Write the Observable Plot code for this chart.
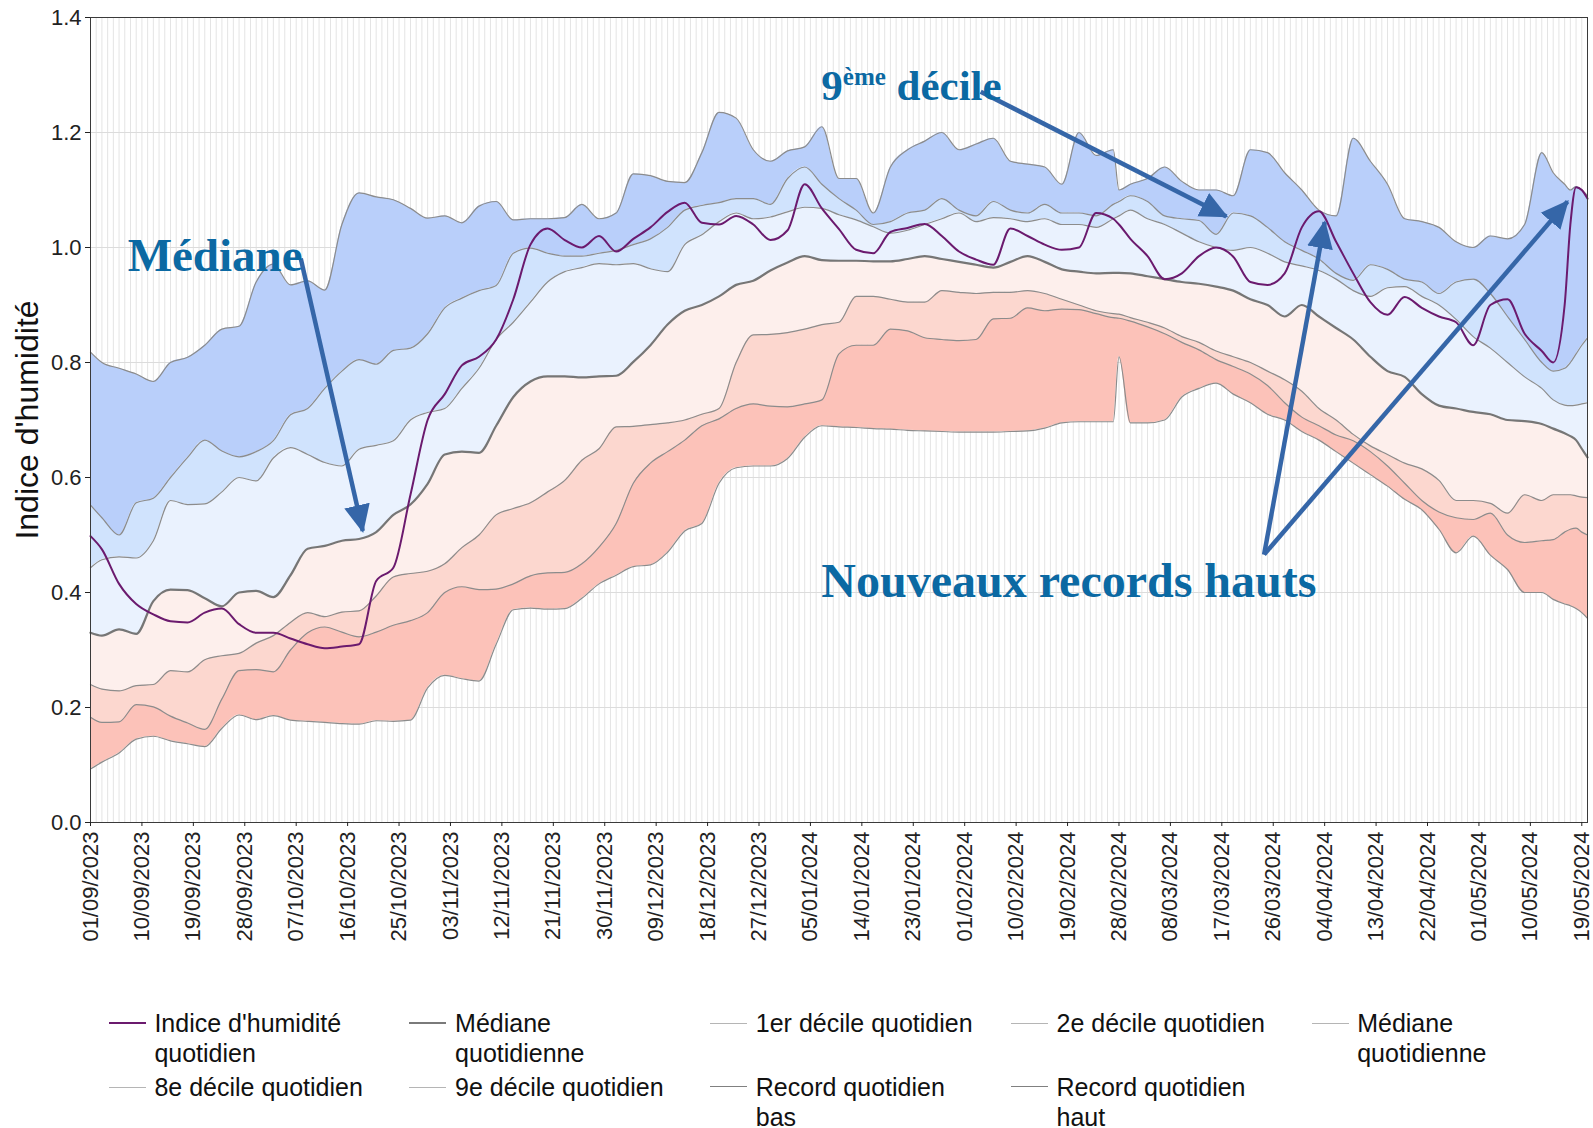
<!DOCTYPE html>
<html lang="fr"><head><meta charset="utf-8">
<script src="https://cdn.jsdelivr.net/npm/d3@7"></script>
<script src="https://cdn.jsdelivr.net/npm/@observablehq/plot@0.6"></script>
<style>
html,body{margin:0;padding:0;background:#fff;}
body{width:1593px;height:1128px;overflow:hidden;font-family:"Liberation Sans",Arial,sans-serif;}
#chart svg{display:block;}
#legend{position:relative;width:1593px;height:178px;}
.sw{position:absolute;width:37px;height:0;}
.lb{position:absolute;font-size:25px;line-height:30px;color:#111;white-space:pre;}
</style></head><body>
<div id="chart"></div>
<div id="legend"></div>
<script>
// ---------- DATA (days since 01/09/2023) ----------
const dayOffsets = [0,2,5,8,11,14,17,20,23,26, 29,32,35,38,41,44,47,50,53,56, 59,62,65,68,71,74,77,80,83,86,
 89,92,95,98,101,104,107,110,113,116, 119,122,125,128,131,134,137,140,143,146, 149,152,155,158,161,164,167,170,173,176,
 179,180,182,185,188,191,194,197,200,203, 206,209,212,215,218,221,224,227,230,233, 236,239,242,245,248,251,
 254,256,258,259,260,261,262];

const recordHaut = [0.818,0.80,0.79,0.78,0.767,0.80,0.809,0.83,0.858,0.863,
 0.94,0.971,0.935,0.942,0.926,1.04,1.095,1.088,1.083,1.068,
 1.051,1.055,1.043,1.072,1.08,1.048,1.05,1.05,1.052,1.075,
 1.05,1.06,1.128,1.125,1.115,1.113,1.165,1.235,1.225,1.17,
 1.15,1.168,1.175,1.21,1.12,1.12,1.06,1.14,1.17,1.185,
 1.20,1.17,1.18,1.19,1.15,1.145,1.14,1.11,1.20,1.16,
 1.17,1.10,1.11,1.12,1.14,1.115,1.10,1.10,1.09,1.17,
 1.165,1.13,1.10,1.065,1.055,1.19,1.15,1.11,1.05,1.045,
 1.035,1.01,1.0,1.02,1.015,1.04,
 1.165,1.13,1.11,1.10,1.106,1.10,1.09];

const decile9 = [0.552,0.53,0.50,0.556,0.564,0.60,0.635,0.665,0.646,0.636,
 0.645,0.664,0.709,0.72,0.755,0.785,0.805,0.797,0.821,0.825,
 0.85,0.895,0.912,0.925,0.934,0.99,0.999,0.99,0.985,0.985,
 0.99,0.995,1.005,1.015,1.035,1.065,1.073,1.078,1.085,1.085,
 1.075,1.12,1.14,1.11,1.085,1.065,1.04,1.045,1.06,1.065,
 1.085,1.065,1.055,1.08,1.065,1.06,1.075,1.06,1.06,1.055,
 1.075,1.08,1.09,1.08,1.055,1.05,1.047,1.023,1.06,1.055,
 1.035,1.01,0.995,0.98,0.955,0.943,0.97,0.962,0.945,0.94,
 0.92,0.94,0.945,0.92,0.88,0.84,
 0.80,0.785,0.79,0.80,0.815,0.83,0.843];

const decile8 = [0.443,0.457,0.462,0.46,0.49,0.56,0.553,0.554,0.575,0.60,
 0.594,0.634,0.652,0.64,0.626,0.62,0.649,0.656,0.664,0.70,
 0.713,0.72,0.755,0.79,0.84,0.87,0.905,0.94,0.958,0.965,
 0.972,0.970,0.972,0.963,0.958,1.005,1.022,1.045,1.06,1.05,
 1.053,1.062,1.07,1.068,1.057,1.048,1.036,1.025,1.03,1.04,
 1.05,1.06,1.045,1.052,1.05,1.045,1.05,1.04,1.04,1.035,
 1.05,1.055,1.065,1.05,1.04,1.025,1.01,1.0,0.995,1.0,
 0.99,0.975,0.968,0.96,0.945,0.925,0.915,0.93,0.932,0.915,
 0.90,0.875,0.845,0.825,0.80,0.775,
 0.755,0.735,0.726,0.725,0.726,0.728,0.73];

const mediane = [0.330,0.325,0.336,0.328,0.385,0.405,0.404,0.39,0.376,0.40,
 0.403,0.392,0.43,0.476,0.481,0.49,0.493,0.505,0.535,0.553,
 0.589,0.64,0.645,0.643,0.69,0.74,0.767,0.776,0.776,0.774,
 0.776,0.777,0.801,0.83,0.866,0.89,0.90,0.915,0.935,0.942,
 0.96,0.974,0.985,0.978,0.977,0.977,0.976,0.976,0.98,0.985,
 0.98,0.975,0.97,0.965,0.975,0.985,0.975,0.962,0.958,0.955,
 0.956,0.956,0.955,0.95,0.945,0.94,0.937,0.932,0.925,0.91,
 0.90,0.88,0.90,0.88,0.86,0.84,0.81,0.785,0.775,0.745,
 0.725,0.72,0.714,0.71,0.70,0.698,
 0.693,0.685,0.677,0.672,0.665,0.65,0.635];

const decile2 = [0.240,0.232,0.229,0.238,0.24,0.264,0.262,0.283,0.29,0.294,
 0.312,0.325,0.348,0.365,0.358,0.366,0.368,0.394,0.427,0.433,
 0.437,0.45,0.478,0.50,0.535,0.546,0.556,0.575,0.595,0.63,
 0.65,0.688,0.689,0.692,0.695,0.70,0.71,0.72,0.80,0.848,
 0.849,0.852,0.858,0.866,0.87,0.915,0.915,0.91,0.905,0.905,
 0.925,0.922,0.92,0.922,0.922,0.925,0.92,0.91,0.90,0.89,
 0.885,0.884,0.878,0.87,0.86,0.845,0.835,0.82,0.81,0.80,
 0.785,0.77,0.75,0.72,0.70,0.675,0.655,0.64,0.625,0.615,
 0.595,0.56,0.56,0.555,0.538,0.57,
 0.56,0.57,0.57,0.57,0.568,0.566,0.565];

const decile1 = [0.183,0.174,0.175,0.205,0.201,0.185,0.173,0.162,0.215,0.264,
 0.266,0.262,0.30,0.33,0.34,0.331,0.323,0.331,0.343,0.351,
 0.365,0.40,0.41,0.405,0.406,0.415,0.429,0.434,0.435,0.45,
 0.479,0.52,0.59,0.625,0.645,0.665,0.69,0.702,0.72,0.728,
 0.724,0.723,0.728,0.735,0.815,0.83,0.83,0.858,0.855,0.843,
 0.84,0.838,0.84,0.876,0.877,0.895,0.89,0.893,0.892,0.885,
 0.878,0.877,0.872,0.862,0.85,0.835,0.822,0.805,0.793,0.78,
 0.76,0.73,0.705,0.69,0.674,0.664,0.645,0.62,0.59,0.56,
 0.54,0.53,0.527,0.538,0.50,0.487,
 0.49,0.492,0.505,0.51,0.512,0.505,0.50];

const recordBas = [0.093,0.105,0.121,0.145,0.15,0.142,0.137,0.132,0.164,0.187,
 0.179,0.186,0.178,0.176,0.174,0.172,0.171,0.177,0.176,0.178,
 0.234,0.256,0.25,0.246,0.31,0.37,0.373,0.371,0.372,0.39,
 0.415,0.43,0.445,0.448,0.47,0.507,0.52,0.59,0.617,0.62,
 0.62,0.633,0.67,0.69,0.688,0.687,0.685,0.684,0.682,0.681,
 0.68,0.679,0.679,0.679,0.68,0.681,0.686,0.695,0.697,0.697,
 0.697,0.81,0.695,0.695,0.70,0.74,0.755,0.764,0.745,0.73,
 0.71,0.70,0.68,0.665,0.645,0.625,0.605,0.585,0.562,0.544,
 0.51,0.469,0.498,0.465,0.44,0.40,
 0.40,0.388,0.38,0.377,0.372,0.365,0.355];

const indice = [0.498,0.475,0.415,0.38,0.362,0.35,0.348,0.365,0.372,0.345,
 0.33,0.33,0.32,0.31,0.303,0.306,0.31,0.42,0.443,0.57,
 0.70,0.745,0.795,0.81,0.84,0.91,1.005,1.033,1.013,1.0,
 1.02,0.993,1.015,1.035,1.062,1.078,1.043,1.04,1.055,1.04,
 1.013,1.03,1.11,1.068,1.032,0.996,0.99,1.027,1.034,1.041,
 1.02,0.993,0.979,0.97,1.033,1.02,1.005,0.996,1.0,1.06,
 1.05,1.04,1.015,0.985,0.945,0.955,0.985,1.0,0.984,0.94,
 0.935,0.955,1.035,1.063,1.01,0.955,0.905,0.883,0.914,0.895,
 0.88,0.87,0.83,0.90,0.91,0.85,
 0.82,0.80,0.90,1.04,1.105,1.10,1.085];

const xTickLabels = ["01/09/2023","10/09/2023","19/09/2023","28/09/2023","07/10/2023","16/10/2023","25/10/2023",
 "03/11/2023","12/11/2023","21/11/2023","30/11/2023","09/12/2023","18/12/2023","27/12/2023","05/01/2024",
 "14/01/2024","23/01/2024","01/02/2024","10/02/2024","19/02/2024","28/02/2024","08/03/2024","17/03/2024",
 "26/03/2024","04/04/2024","13/04/2024","22/04/2024","01/05/2024","10/05/2024","19/05/2024"];
const yTicks = [0,0.2,0.4,0.6,0.8,1.0,1.2,1.4];
const yTitle = "Indice d'humidité";

const annotationLabels = ["Médiane","9ème décile","Nouveaux records hauts"];
const annotationDays = [6.5,127.9,127.9];
const annotationValues = [0.986,1.280,0.419];
const arrowFromDays = [36.8,155.8,205.4,205.4];
const arrowFromValues = [0.981,1.271,0.466,0.466];
const arrowToDays = [47.65,198.8,216,258.5];
const arrowToValues = [0.507,1.054,1.044,1.08];

const legendLabels = ["Indice d'humidité\nquotidien","Médiane\nquotidienne","1er décile quotidien","2e décile quotidien",
 "Médiane\nquotidienne","8e décile quotidien","9e décile quotidien","Record quotidien\nbas","Record quotidien\nhaut"];

// ---------- BUILD ----------
const parse = d3.utcParse("%d/%m/%Y");
const start = parse(xTickLabels[0]);
const toDate = d => new Date(start.getTime() + d * 864e5);
const end = toDate(d3.max(dayOffsets));
const rows = dayOffsets.map((d,i)=>({date:toDate(d), rh:recordHaut[i], d9:decile9[i], d8:decile8[i],
  med:mediane[i], d2:decile2[i], d1:decile1[i], rb:recordBas[i], idx:indice[i]}));
const allDays = d3.utcDay.range(start, d3.utcDay.offset(end,1));
const xTicks = xTickLabels.map(parse);
const annots = annotationLabels.map((t,i)=>({label:t, date:toDate(annotationDays[i]), v:annotationValues[i]}));
const arrows = arrowFromDays.map((d,i)=>({x1:toDate(d), y1:arrowFromValues[i], x2:toDate(arrowToDays[i]), y2:arrowToValues[i]}));

const curve = "monotone-x";
const bands = [
  ["d9","rh","#b9cffa"],
  ["d8","d9","#d0e3fd"],
  ["med","d8","#eaf2fe"],
  ["d2","med","#fdefec"],
  ["d1","d2","#fcd7cf"],
  ["rb","d1","#fcc2b9"]
];
const serif = '"Liberation Serif","Times New Roman",serif';
const annColor = "#0b69a3";
const arrowColor = "#3566a8";

const chart = Plot.plot({
  width:1593, height:950,
  marginLeft:90, marginRight:6, marginTop:17, marginBottom:128,
  style:{fontFamily:'"Liberation Sans",Arial,sans-serif', fontSize:"22px", color:"#222", background:"#fff"},
  x:{type:"utc", domain:[start,end]},
  y:{domain:[0,1.4]},
  marks:[
    Plot.ruleX(allDays, {stroke:"#e4e4e4", strokeWidth:1}),
    Plot.ruleY(yTicks, {stroke:"#dcdcdc", strokeWidth:1}),
    ...bands.map(([a,b,c])=>Plot.areaY(rows,{x:"date", y1:a, y2:b, fill:c, curve})),
    ...["rh","d9","d8","d2","d1","rb"].map(k=>Plot.lineY(rows,{x:"date", y:k, stroke:"#8c8c8c", strokeWidth:1.2, curve})),
    Plot.lineY(rows,{x:"date", y:"med", stroke:"#767676", strokeWidth:2.2, curve}),
    Plot.lineY(rows,{x:"date", y:"idx", stroke:"#6b1a6e", strokeWidth:2, curve}),
    Plot.frame({stroke:"#3a3a3a", strokeWidth:1}),
    Plot.axisY({ticks:yTicks, tickFormat:d=>d.toFixed(1), tickSize:5, tickPadding:4, fontSize:22, label:null}),
    Plot.axisX({ticks:xTicks, tickFormat:d3.utcFormat("%d/%m/%Y"), tickRotate:-90, tickSize:4, tickPadding:5, fontSize:22, label:null}),
    Plot.text([yTitle], {text:d=>d, frameAnchor:"left", textAnchor:"middle", rotate:-90, dx:-63, fontSize:32, fill:"#111"}),
    Plot.link(arrows, {x1:"x1", y1:"y1", x2:"x2", y2:"y2", stroke:arrowColor, strokeWidth:4.5,
      ariaLabel:()=>"annot-arrows", ariaDescription:"annot-arrows"}),
    Plot.text([annots[0]], {x:"date", y:"v", text:"label", textAnchor:"start", fontFamily:serif, fontWeight:"bold", fontSize:47, fill:annColor}),
    Plot.text([annots[1]], {x:"date", y:"v", text:"label", textAnchor:"start", fontFamily:serif, fontWeight:"bold", fontSize:43, fill:annColor,
      ariaLabel:()=>"annot-9e", ariaDescription:"annot-9e"}),
    Plot.text([annots[2]], {x:"date", y:"v", text:"label", textAnchor:"start", fontFamily:serif, fontWeight:"bold", fontSize:48, fill:annColor})
  ]
});

// filled arrow heads
const ns = "http://www.w3.org/2000/svg";
const defs = document.createElementNS(ns,"defs");
const mk = document.createElementNS(ns,"marker");
mk.setAttribute("id","ahead"); mk.setAttribute("markerUnits","userSpaceOnUse");
mk.setAttribute("markerWidth","28"); mk.setAttribute("markerHeight","28");
mk.setAttribute("viewBox","0 0 28 28"); mk.setAttribute("refX","26"); mk.setAttribute("refY","14");
mk.setAttribute("orient","auto");
const mp = document.createElementNS(ns,"path");
mp.setAttribute("d","M0,1L28,14L0,27Z"); mp.setAttribute("fill",arrowColor); mp.setAttribute("stroke","none");
mk.appendChild(mp); defs.appendChild(mk); chart.insertBefore(defs, chart.firstChild);

function collect(sel, tag){
  const out = new Set();
  chart.querySelectorAll(sel).forEach(el=>{
    if (el.tagName.toLowerCase()===tag) out.add(el);
    el.querySelectorAll(tag).forEach(c=>out.add(c));
  });
  return Array.from(out);
}
collect('[aria-label="annot-arrows"],[aria-description="annot-arrows"]', "path")
  .forEach(p=>p.setAttribute("marker-end","url(#ahead)"));

// superscript in "9ème décile"
collect('[aria-label="annot-9e"],[aria-description="annot-9e"]', "text").forEach(t9=>{
  const m = t9.textContent.match(/^(\d+)(ème)(.*)$/);
  if (!m) return;
  t9.textContent = "";
  const parts = [[m[1],{}],[m[2],{"font-size":"25","dy":"-15"}],[m[3],{"font-size":"43","dy":"15"}]];
  for (const [s,attrs] of parts) {
    const ts = document.createElementNS(ns,"tspan");
    for (const k in attrs) ts.setAttribute(k, attrs[k]);
    ts.textContent = s; t9.appendChild(ts);
  }
});
document.getElementById("chart").appendChild(chart);

// legend
const legendStyles = [
  ["#6b1a6e",2],["#7a7a7a",2.5],["#b5b5b5",1],["#b5b5b5",1],["#b5b5b5",1],
  ["#b5b5b5",1],["#b5b5b5",1],["#808080",1.5],["#808080",1.5]
];
const leg = document.getElementById("legend");
legendLabels.forEach((lab,i)=>{
  const row = Math.floor(i/5), col = i%5;
  const x0 = 108.7 + col*300.7;
  const top = 58 + row*64;
  const sw = document.createElement("div");
  sw.className = "sw";
  sw.style.left = x0+"px"; sw.style.top = (top+15-legendStyles[i][1]/2)+"px";
  sw.style.borderTop = legendStyles[i][1]+"px solid "+legendStyles[i][0];
  leg.appendChild(sw);
  const lb = document.createElement("div");
  lb.className = "lb"; lb.textContent = lab;
  lb.style.left = (x0+45.7)+"px"; lb.style.top = top+"px";
  leg.appendChild(lb);
});
</script>
</body></html>
